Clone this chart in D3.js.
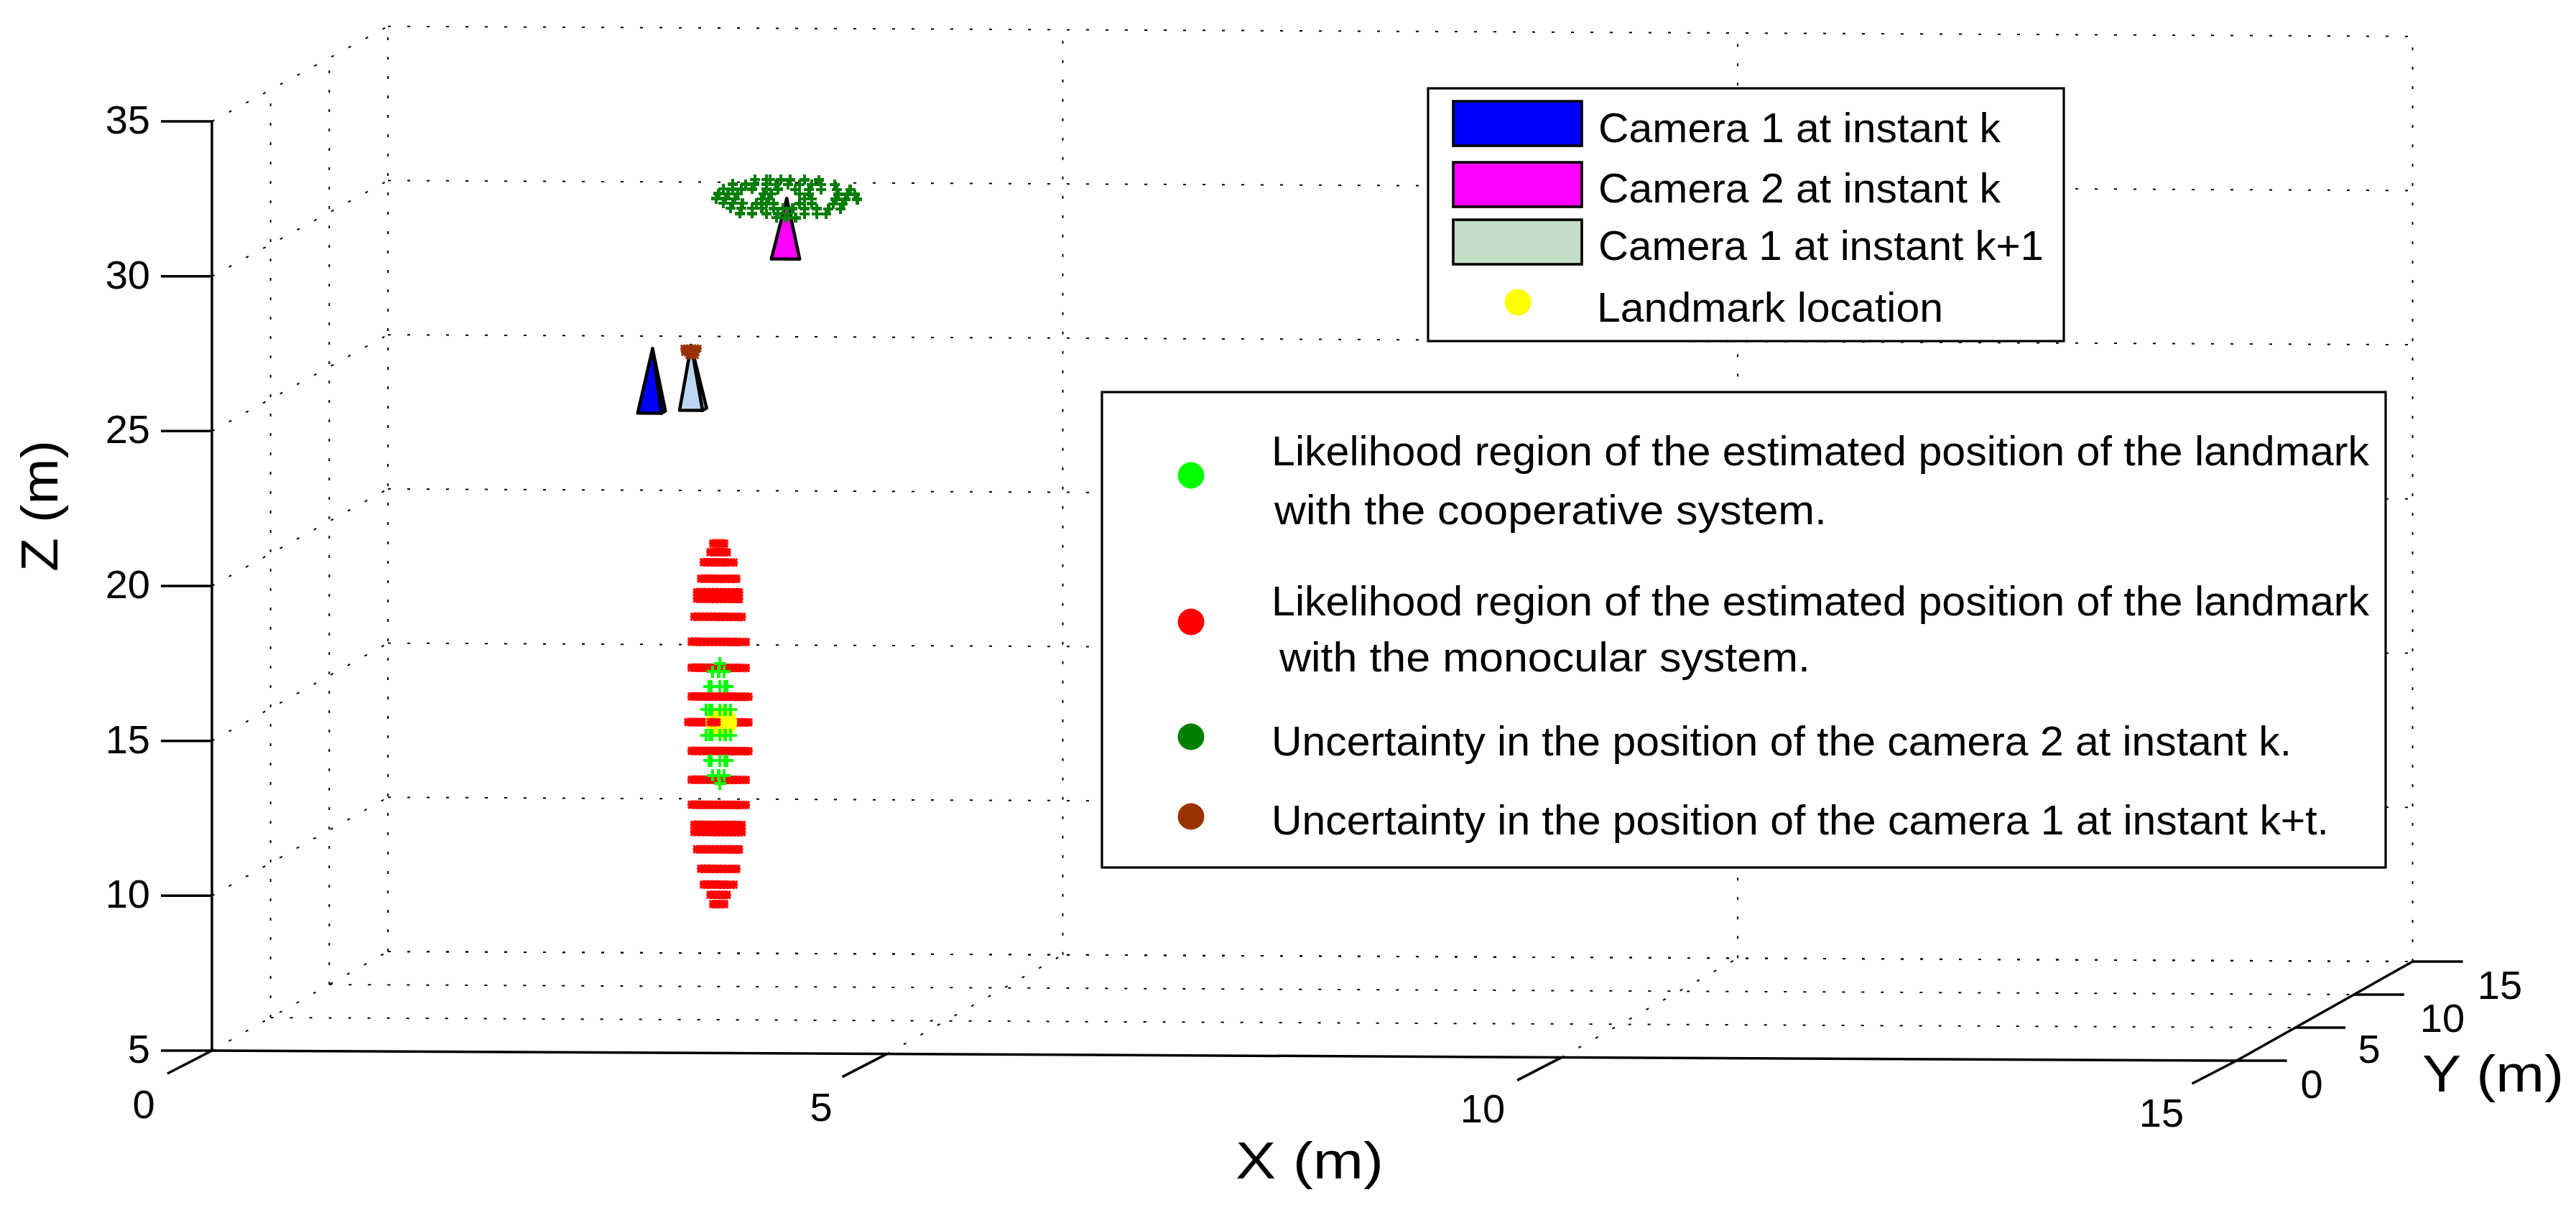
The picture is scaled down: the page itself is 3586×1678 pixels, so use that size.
<!DOCTYPE html>
<html><head><meta charset="utf-8">
<script src="https://cdn.jsdelivr.net/npm/d3@7/dist/d3.min.js"></script>
<style>html,body{margin:0;background:#fff}svg{display:block}text{font-family:"Liberation Sans",Arial,sans-serif;fill:#000}</style>
</head><body><svg id="c" width="3586" height="1678"></svg>
<script>
// ---------- axis ticks ----------
const xTicks=[0,5,10,15], yTicks=[0,5,10,15], zTicks=[5,10,15,20,25,30,35];
// ---------- scene data (metres) ; every cluster sits at depth Y = 5 ----------
const depth=5;
const landmark=[3.34,14.62];
// X positions of the red markers in rows of each width
const rA=[3.28,3.30,3.32,3.34,3.36];
const rB=[3.26,3.29,3.32,3.35,3.38];
const rC=[3.21,3.24,3.27,3.30,3.33,3.36,3.39,3.43];
const rD=[3.19,3.22,3.25,3.28,3.31,3.34,3.37,3.40,3.43,3.45];
const rE=[3.16,3.19,3.22,3.25,3.28,3.31,3.34,3.37,3.40,3.43,3.46,3.47];
const rF=[3.14,3.17,3.20,3.23,3.26,3.29,3.32,3.35,3.38,3.41,3.44,3.47,3.49];
const rG=[3.12,3.15,3.18,3.21,3.24,3.27,3.30,3.33,3.36,3.39,3.42,3.45,3.48,3.52];
const rI=[3.12,3.15,3.18,3.21,3.24,3.27,3.30,3.33,3.36,3.39,3.42,3.45,3.48,3.51,3.54];
const rJ=[3.095,3.12,3.15,3.18,3.21,3.24,3.27,3.30,3.33,3.36,3.39,3.42,3.45,3.48,3.51,3.54];
const redRows=[[20.40,rA],[20.12,rB],[19.79,rC],[19.26,rD],[18.82,rE],[18.61,rE],[18.03,rF],[17.22,rG],[16.38,rG],
[15.45,rI],[14.62,rJ],[13.69,rI],[12.76,rG],[11.95,rG],[11.30,rF],[11.07,rF],[10.51,rE],[9.88,rD],[9.37,rC],[9.04,rB],[8.74,rA]];
const redOverLandmark=[[14.62,[3.262,3.283,3.304]]];
const greenRows=[
[16.52,[3.329]],[16.26,[3.276,3.319,3.361]],[15.78,[3.249,3.265,3.329,3.365,3.382]],
[15.03,[3.228,3.255,3.271,3.329,3.367,3.409]],[14.20,[3.228,3.255,3.271,3.329,3.367,3.409]],
[13.38,[3.249,3.265,3.329,3.365,3.382]],[12.90,[3.276,3.319,3.361]],[12.64,[3.329]]];
const darkGreenRows=[
[32.17,[3.59,3.673,3.70,3.78,3.85,3.957,4.063]],
[32.02,[3.425,3.52,3.584,3.673,3.744,3.833,3.92,4.01,4.08,4.179]],
[31.86,[3.354,3.425,3.487,3.567,3.673,3.76,3.886,3.99,4.08,4.196,4.294]],
[31.71,[3.32,3.39,3.46,3.655,3.709,3.92,3.99,4.205,4.276,4.33]],
[31.55,[3.30,3.37,3.44,3.64,3.69,3.957,4.01,4.187,4.26,4.347]],
[31.40,[3.354,3.425,3.496,3.60,3.673,3.726,3.92,4.01,4.17,4.24]],
[31.24,[3.407,3.487,3.567,3.64,3.726,3.797,3.868,3.957,4.046,4.134,4.223]],
[31.07,[3.478,3.567,3.673,3.76,3.833,3.957,4.046,4.117]],
[30.94,[3.75,3.82,3.89]]];
const brownRows=[[26.70,[3.065,3.085,3.105,3.125,3.145,3.165]],[26.58,[3.07,3.09,3.11,3.13,3.15]],[26.48,[3.10,3.125,3.145]]];
const cameraNames=["cam2k","cam1k","cam1k1"];
const cameraColors=["#ff00ff","#0000ff","#bcd6f2"];
const cameraApex=[[3.824,31.57],[2.83,26.69],[3.116,26.80]];
const cameraBaseZ=[29.61,24.60,24.70];
const cameraBaseX=[[3.71,3.92],[2.72,2.895],[3.03,3.20]];
const cameraSide=[0,0.35,0.35];
// ---------- legends ----------
const legend1Labels=["Camera 1 at instant k","Camera 2 at instant k","Camera 1 at instant k+1","Landmark location"];
const legend1Colors=["#0000ff","#ff00ff","#c2dcc6","#ffff00"];
const legend2Dots=["#00ff00","#ff0000","#008000","#993300"];
const legend2Lines=["Likelihood region of the estimated position of the landmark","with the cooperative system.",
"Likelihood region of the estimated position of the landmark","with the monocular system.",
"Uncertainty in the position of the camera 2 at instant k.","Uncertainty in the position of the camera 1 at instant k+t."];

// ---------- projection ----------
const sx=d3.scaleLinear().domain([0,15]).range([295,3113.5]);
const sxv=d3.scaleLinear().domain([0,15]).range([0,14]);
const syh=d3.scaleLinear().domain([0,15]).range([0,245]);
const syv=d3.scaleLinear().domain([0,15]).range([0,-138]);
const sz=d3.scaleLinear().domain([5,35]).range([0,1294]);
const szBack=d3.scaleLinear().domain([5,35]).range([0,1288.3]);
function P(X,Y,Z){
  const k=Y/15;
  const dz=sz(Z)*(1-k)+szBack(Z)*k;
  return [sx(X)+syh(Y), 1463+sxv(X)+syv(Y)-dz];
}
const svg=d3.select("#c");
const line=d3.line();

// ---------- grid ----------
const gridSegs=[];
zTicks.forEach(z=>{gridSegs.push([P(0,0,z),P(0,15,z)]);gridSegs.push([P(0,15,z),P(15,15,z)]);});
yTicks.slice(1).forEach(y=>{gridSegs.push([P(0,y,5),P(0,y,35)]);gridSegs.push([P(0,y,5),P(15,y,5)]);});
xTicks.slice(1).forEach(x=>{gridSegs.push([P(x,15,5),P(x,15,35)]);gridSegs.push([P(x,0,5),P(x,15,5)]);});
svg.append("g").selectAll("path").data(gridSegs).join("path").attr("d",d=>line(d))
  .attr("fill","none").attr("stroke","#000").attr("stroke-width",2).attr("stroke-dasharray","4 23");

// ---------- axes ----------
const ax=svg.append("g").attr("stroke","#000").attr("stroke-width",3.5).attr("fill","none");
const axSegs=[[P(0,0,5),P(0,0,35)],[P(0,0,5),P(15,0,5)],[P(15,0,5),P(15,15,5)]];
zTicks.forEach(z=>{const p=P(0,0,z);axSegs.push([p,[p[0]-71,p[1]]]);});
xTicks.forEach(x=>{const p=P(x,0,5);axSegs.push([p,[p[0]-62,p[1]+32]]);});
yTicks.forEach(y=>{const p=P(15,y,5);axSegs.push([p,[p[0]+70,p[1]]]);});
ax.selectAll("path").data(axSegs).join("path").attr("d",d=>line(d));

const tickFont=56;
const tt=svg.append("g").attr("font-size",tickFont).attr("text-anchor","middle");
zTicks.forEach(z=>{const p=P(0,0,z);tt.append("text").attr("x",p[0]-86).attr("y",p[1]+17).attr("text-anchor","end").text(z);});
const xLabPos=[[200,1557],[1143,1561],[2064,1563],[3009,1569]];
xTicks.forEach((x,i)=>tt.append("text").attr("x",xLabPos[i][0]).attr("y",xLabPos[i][1]).text(x));
const yLabPos=[[3218,1529],[3298,1480],[3400,1437],[3480,1391]];
yTicks.forEach((y,i)=>tt.append("text").attr("x",yLabPos[i][0]).attr("y",yLabPos[i][1]).text(y));

function axisLabel(t,x,y,len,rot){
  const s=svg.append("text").attr("font-size",72).attr("textLength",len).attr("lengthAdjust","spacingAndGlyphs").text(t);
  if(rot) s.attr("transform",`translate(${x},${y}) rotate(-90)`); else s.attr("x",x).attr("y",y);
}
axisLabel("X (m)",1720,1641,206);
axisLabel("Y (m)",3372,1520,197);
axisLabel("Z (m)",80,796,183,true);

// ---------- markers ----------
const plus=h=>`M${-h},0H${h}M0,${-h}V${h}`;
const star=h=>{const d=h*0.85;return `M${-h},0H${h}M0,${-h}V${h}M${-d},${-d}L${d},${d}M${-d},${d}L${d},${-d}`;};
function markers(rows,color,shape,w,crisp){
  const pts=rows.flatMap(([z,xs])=>xs.map(x=>P(x,depth,z)));
  svg.append("g").selectAll("path").data(pts).join("path")
    .attr("transform",d=>`translate(${d[0]},${d[1]})`).attr("d",shape)
    .attr("fill","none").attr("stroke",color).attr("stroke-width",w)
    .attr("shape-rendering",crisp?"crispEdges":null);
}
function camera(i){
  const [ax_,az]=cameraApex[i],bz=cameraBaseZ[i],[l,r]=cameraBaseX[i],s=cameraSide[i];
  const apex=P(ax_,depth,az),bl=P(l,depth,bz),br=P(r,depth,bz),bb=P(r,depth+s,bz);
  const g=svg.append("g").attr("class",cameraNames[i]).attr("stroke","#000").attr("stroke-width",4.5).attr("stroke-linejoin","round");
  if(s>0) g.append("path").attr("d",line([apex,br,bb])+"Z").attr("fill",cameraColors[i]);
  g.append("path").attr("d",line([apex,bl,br])+"Z").attr("fill",cameraColors[i]);
}
cameraNames.forEach((_,i)=>camera(i));
markers(darkGreenRows,"#067d06",plus(7),4.4,true);
markers(brownRows,"#993300",star(5.5),3);
markers(redRows,"#ff0000",star(6),3.4);
const lp=P(landmark[0],depth,landmark[1]);
svg.append("circle").attr("cx",lp[0]).attr("cy",lp[1]).attr("r",22).attr("fill","#ffff00");
markers(greenRows,"#00ff00",plus(8.5),4.4,true);
markers(redOverLandmark,"#ff0000",star(6),3.4);

// ---------- legend 1 ----------
const box=(x0,y0,x1,y1)=>svg.append("rect").attr("x",x0).attr("y",y0).attr("width",x1-x0).attr("height",y1-y0).attr("fill","#fff").attr("stroke","#000").attr("stroke-width",3.2);
box(1988,123,2873,475);
const swY=[[141,203],[226,288],[306,368]];
const l1X=[2225,2225,2225,2223], l1Base=[198,282,362,448], l1Len=[560,560,620,482];
swY.forEach((s,i)=>svg.append("rect").attr("x",2023).attr("y",s[0]).attr("width",179).attr("height",s[1]-s[0]).attr("fill",legend1Colors[i]).attr("stroke","#000").attr("stroke-width",3.6));
svg.append("circle").attr("cx",2113).attr("cy",421).attr("r",18.5).attr("fill",legend1Colors[3]);
legend1Labels.forEach((t,i)=>svg.append("text").attr("x",l1X[i]).attr("y",l1Base[i]).attr("font-size",58).attr("textLength",l1Len[i]).attr("lengthAdjust","spacingAndGlyphs").text(t));

// ---------- legend 2 ----------
box(1534,546,3321,1208);
const dotY=[662,866,1026,1137];
legend2Dots.forEach((c,i)=>svg.append("circle").attr("cx",1658).attr("cy",dotY[i]).attr("r",18.5).attr("fill",c));
const l2X=[1770,1774,1770,1781,1770,1770], l2Y=[648,730,857,935,1052,1162], l2Len=[1528,769,1528,739,1420,1472];
legend2Lines.forEach((t,i)=>svg.append("text").attr("x",l2X[i]).attr("y",l2Y[i]).attr("font-size",58).attr("textLength",l2Len[i]).attr("lengthAdjust","spacingAndGlyphs").text(t));
</script></body></html>
